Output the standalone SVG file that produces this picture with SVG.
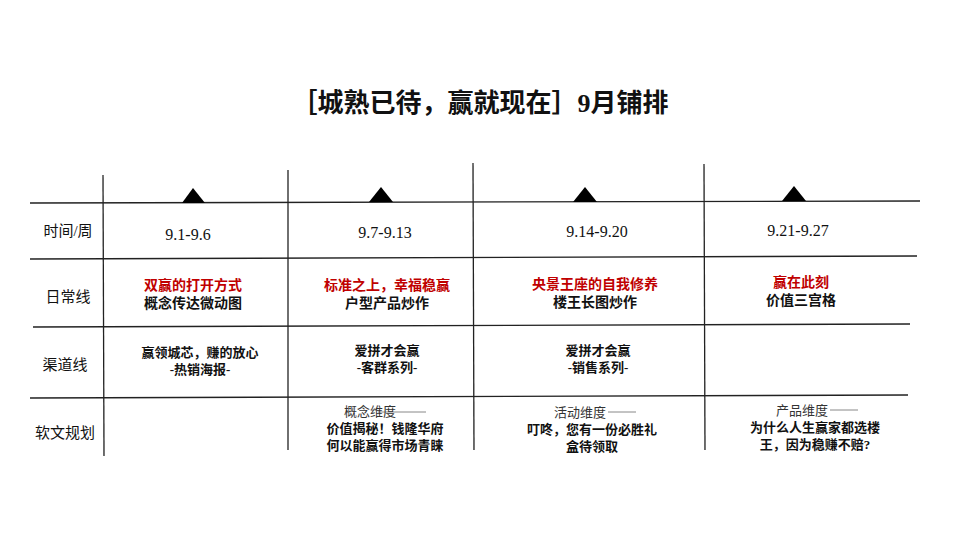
<svg xmlns="http://www.w3.org/2000/svg" width="960" height="540" viewBox="0 0 960 540">
<style>
.l{stroke:#222;stroke-width:1.3;fill:none}
text{font-family:"Liberation Serif","Noto Sans CJK SC",serif;text-anchor:middle;fill:#111}
.h{font-size:15px}
.d{font-size:16px}
.r{font-size:14px;font-weight:bold;fill:#c00000}
.b{font-size:14px;font-weight:bold}
.s{font-size:13px;font-weight:bold}
.g{font-size:13px;fill:#333}
</style>
<rect width="960" height="540" fill="#fff"/>
<text x="480" y="112" style="font-size:26px;font-weight:bold">［城熟已待，赢就现在］9月铺排</text>
<g id="connectors">
<line class="l" x1="30" y1="203" x2="920" y2="201"/>
<line class="l" x1="30" y1="259" x2="917" y2="256"/>
<line class="l" x1="33" y1="327" x2="910" y2="324"/>
<line class="l" x1="30" y1="398" x2="908" y2="395"/>
<line class="l" x1="103" y1="175" x2="104" y2="456"/>
<line class="l" x1="288" y1="170" x2="288" y2="450"/>
<line class="l" x1="473" y1="163" x2="474" y2="450"/>
<line class="l" x1="704" y1="164" x2="705" y2="450"/>
<line x1="378" y1="412" x2="426" y2="412" stroke="#888" stroke-width="1"/>
<line x1="608" y1="412" x2="636" y2="412" stroke="#888" stroke-width="1"/>
<line x1="830" y1="410" x2="858" y2="410" stroke="#888" stroke-width="1"/>
</g>
<g id="triangles" fill="#000">
<polygon points="182,203 193,188 205,203"/>
<polygon points="369,202 381,187 393,202"/>
<polygon points="573,202 585,187 597,202"/>
<polygon points="782,201 794,186 806,201"/>
</g>
<g id="row-labels">
<text class="h" x="68" y="236">时间/周</text>
<text class="h" x="68" y="302">日常线</text>
<text class="h" x="65" y="370">渠道线</text>
<text class="h" x="65" y="438">软文规划</text>
</g>
<g id="dates">
<text class="d" x="188" y="240">9.1-9.6</text>
<text class="d" x="385" y="238">9.7-9.13</text>
<text class="d" x="597" y="237">9.14-9.20</text>
<text class="d" x="798" y="236">9.21-9.27</text>
</g>
<g id="daily">
<text class="r" x="193" y="290">双赢的打开方式</text>
<text class="b" x="193" y="308">概念传达微动图</text>
<text class="r" x="387" y="290">标准之上，幸福稳赢</text>
<text class="b" x="387" y="308">户型产品炒作</text>
<text class="r" x="595" y="289">央景王座的自我修养</text>
<text class="b" x="595" y="307">楼王长图炒作</text>
<text class="r" x="801" y="287">赢在此刻</text>
<text class="b" x="801" y="305">价值三宫格</text>
</g>
<g id="channel">
<text class="s" x="200" y="357">赢领城芯，赚的放心</text>
<text class="s" x="200" y="374">-热销海报-</text>
<text class="s" x="387" y="355">爱拼才会赢</text>
<text class="s" x="387" y="372">-客群系列-</text>
<text class="s" x="598" y="355">爱拼才会赢</text>
<text class="s" x="598" y="372">-销售系列-</text>
</g>
<g id="articles">
<text class="g" x="370" y="416">概念维度</text>
<text class="s" x="385" y="433">价值揭秘！钱隆华府</text>
<text class="s" x="385" y="450">何以能赢得市场青睐</text>
<text class="g" x="580" y="417">活动维度</text>
<text class="s" x="592" y="434">叮咚，您有一份必胜礼</text>
<text class="s" x="592" y="451">盒待领取</text>
<text class="g" x="802" y="415">产品维度</text>
<text class="s" x="815" y="432">为什么人生赢家都选楼</text>
<text class="s" x="815" y="449">王，因为稳赚不赔?</text>
</g>
</svg>
